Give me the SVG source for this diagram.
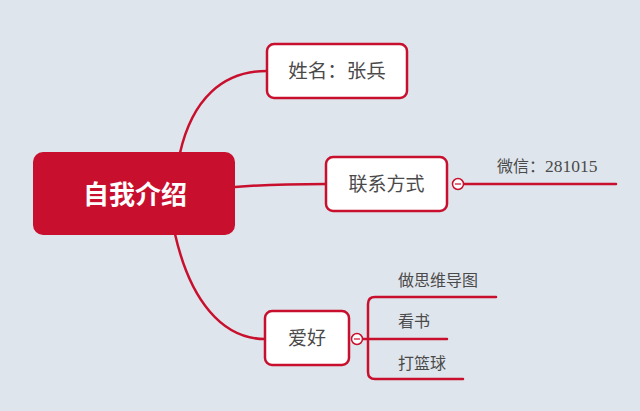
<svg xmlns="http://www.w3.org/2000/svg" width="640" height="411" viewBox="0 0 640 411">
<style>
.bg{fill:#dfe5ec}
.node{fill:#ffffff;stroke:#c8102e;stroke-width:2.5}
.root{fill:#c8102e}
.conn{fill:none;stroke:#c8102e;stroke-width:2.5;stroke-linecap:round}
.t{font-family:"Liberation Serif","Noto Sans CJK SC",serif;fill:#4a4a4a;}
.rt{font-family:"Noto Sans CJK SC",sans-serif;fill:#ffffff;font-weight:bold;font-size:26px}
.fold{fill:#ffffff;stroke:#c8102e;stroke-width:1.5}
.minus{stroke:#c8102e;stroke-width:1.2}
</style>
<rect class="bg" x="0" y="0" width="640" height="411"/>
<g id="connectors">
<path class="conn" d="M180,153 C192,100 222,71 267,71"/>
<path class="conn" d="M235,187 C270,184 300,184 326,184"/>
<path class="conn" d="M175,234 C190,300 222,339 265,339"/>
<path class="conn" d="M464,184 L616,184"/>
<path class="conn" d="M362,339 L447,339"/>
<path class="conn" d="M496,297 L375,297 Q368,297 368,304 L368,372 Q368,379 375,379 L463,379"/>
</g>
<g id="root">
<rect class="root" x="33" y="152" width="202" height="83" rx="10"/>
<text class="rt" x="135" y="204" text-anchor="middle">自我介绍</text>
</g>
<g id="name">
<rect class="node" x="267" y="44" width="140" height="54" rx="7"/>
<text class="t" x="337" y="78" text-anchor="middle" font-size="19.5">姓名：张兵</text>
</g>
<g id="contact">
<rect class="node" x="326" y="157" width="121" height="54" rx="7"/>
<text class="t" x="386.5" y="191" text-anchor="middle" font-size="19">联系方式</text>
<circle class="fold" cx="458" cy="184" r="5.5"/>
<line class="minus" x1="455" y1="184" x2="461" y2="184"/>
</g>
<g id="wechat">
<text class="t" x="497" y="172" font-size="16">微信：<tspan font-size="17.5">281015</tspan></text>
</g>
<g id="hobby">
<rect class="node" x="265" y="311" width="84" height="54" rx="7"/>
<text class="t" x="307" y="345" text-anchor="middle" font-size="19">爱好</text>
<circle class="fold" cx="357" cy="339" r="5.5"/>
<line class="minus" x1="354" y1="339" x2="360" y2="339"/>
</g>
<g id="mindmap">
<text class="t" x="398" y="286" font-size="16">做思维导图</text>
</g>
<g id="reading">
<text class="t" x="398" y="327" font-size="16">看书</text>
</g>
<g id="basketball">
<text class="t" x="398" y="369" font-size="16">打篮球</text>
</g>
</svg>
